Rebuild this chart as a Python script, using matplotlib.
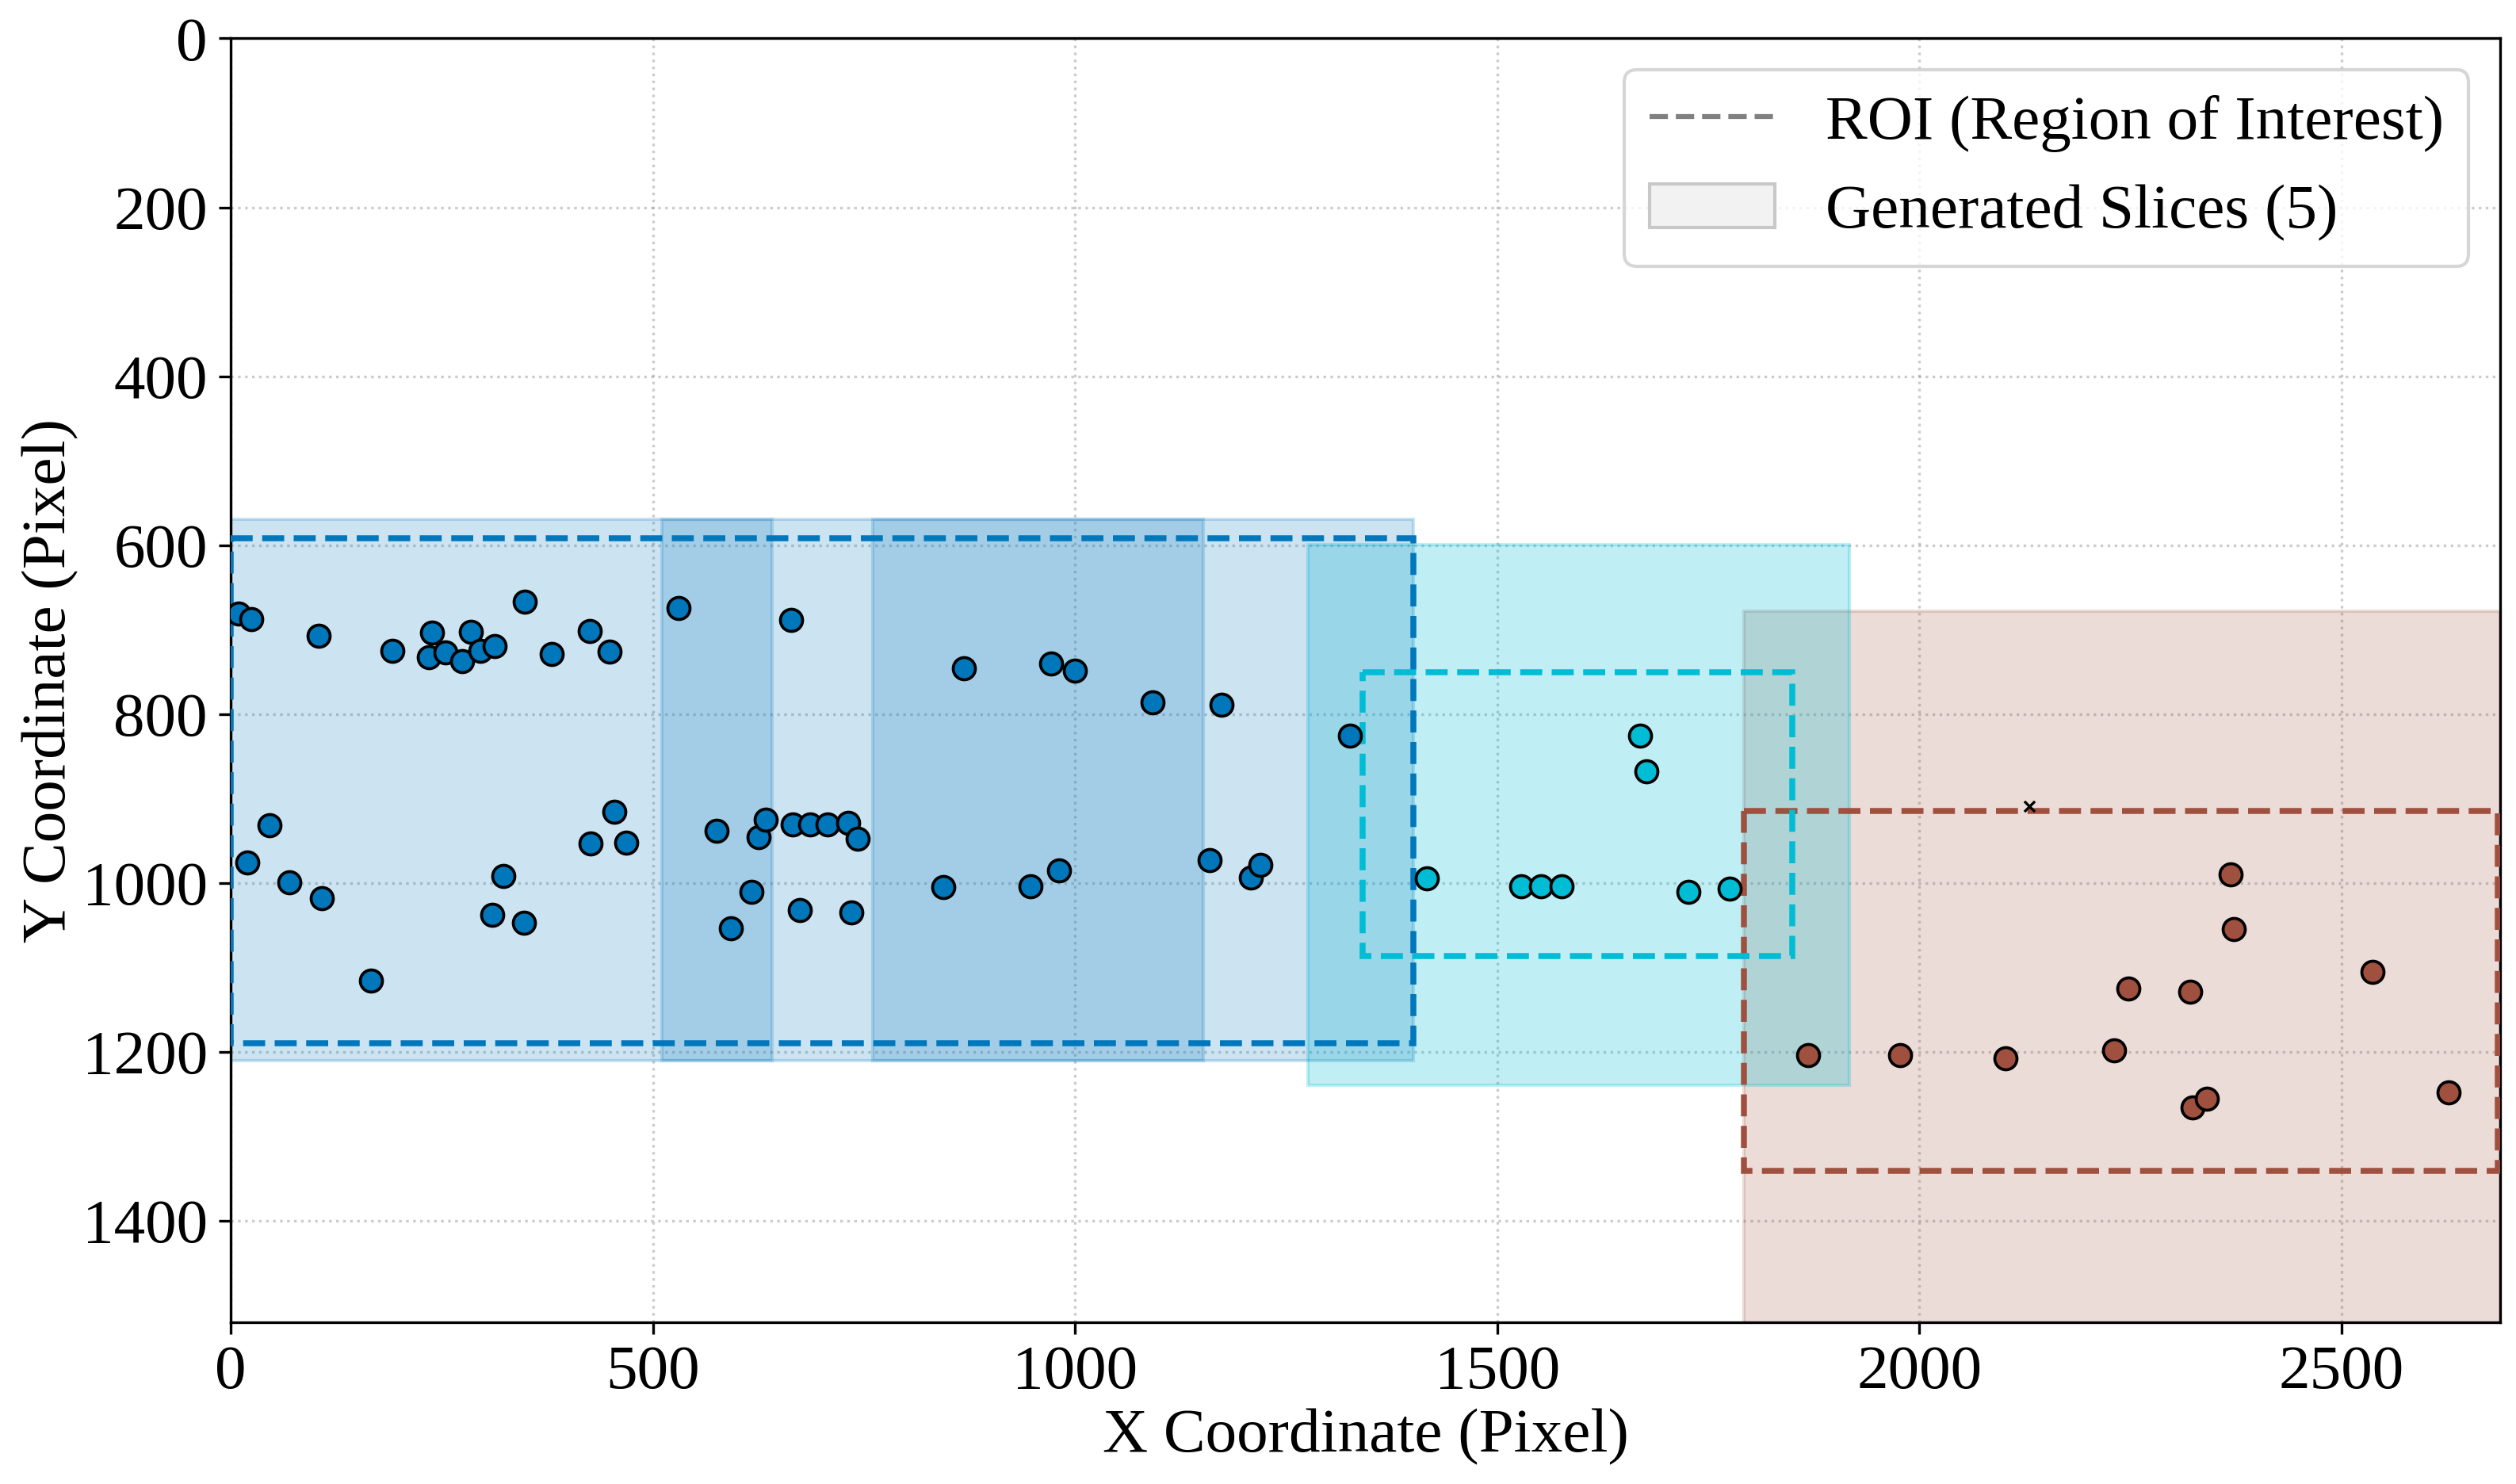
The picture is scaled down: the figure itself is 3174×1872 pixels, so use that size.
import matplotlib.pyplot as plt
from matplotlib.patches import Rectangle, Patch
from matplotlib.lines import Line2D

plt.rcParams['font.family'] = ['Liberation Serif', 'DejaVu Serif']

# image size (pixels) shown on the axes
img_w = 2688
img_h = 1520

# detected points per cluster
blue_x = [9, 24, 104, 191, 238, 235, 254, 274, 284, 296, 313, 348, 380, 425, 449, 530, 664,
          46, 20, 69, 108, 166, 310, 323, 347, 426, 454, 468, 575, 625, 634, 617, 592,
          666, 686, 707, 731, 743, 674, 735,
          868, 972, 1000, 1092, 1174, 1326,
          844, 947, 981, 1159, 1208, 1220]
blue_y = [681, 688, 707, 725, 704, 733, 727, 737, 703, 725, 720, 667, 729, 702, 726, 675, 689,
          932, 976, 999, 1018, 1116, 1038, 992, 1047, 953, 916, 952, 938, 946, 925, 1011, 1054,
          931, 931, 931, 929, 948, 1032, 1035,
          746, 740, 749, 786, 789, 826,
          1005, 1004, 985, 973, 994, 979]
cyan_x = [1417, 1528, 1552, 1576, 1669, 1677, 1727, 1775]
cyan_y = [995, 1004, 1004, 1004, 826, 868, 1011, 1007]
brown_x = [1868, 1977, 2102, 2231, 2248, 2321, 2369, 2373, 2324, 2341, 2537, 2627]
brown_y = [1204, 1204, 1208, 1198, 1125, 1129, 990, 1055, 1266, 1256, 1105, 1248]

# outlier marker
outlier_x = [2130]
outlier_y = [909]

# ROI boxes: x0, y0, x1, y1
blue_roi = [0, 592, 1401, 1190]
cyan_roi = [1341, 751, 1850, 1087]
brown_roi = [1792, 915, 2685, 1341]

# slices: x0, y0, size_w, size_h
blue_slices = [[0, 569, 641, 642], [511, 569, 641, 642], [760, 569, 641, 642]]
cyan_slices = [[1276, 599, 641, 641]]
brown_slices = [[1792, 678, 896, 896]]

c_blue = '#0077BB'
c_cyan = '#00BCD4'
c_brown = '#A0503F'

fig = plt.figure(figsize=(10.583, 6.24), dpi=300)
ax = fig.add_axes([0.0917, 0.1092, 0.9017, 0.8649])


def draw_group(slices, roi, color, alpha):
    for s in slices:
        ax.add_patch(Rectangle((s[0], s[1]), s[2], s[3], facecolor=color,
                               edgecolor=color, alpha=alpha, lw=1, zorder=2))
    ax.add_patch(Rectangle((roi[0], roi[1]), roi[2] - roi[0], roi[3] - roi[1],
                           fill=False, edgecolor=color, linestyle='--', lw=1.8, zorder=3))


draw_group(brown_slices, brown_roi, c_brown, 0.2)
draw_group(cyan_slices, cyan_roi, c_cyan, 0.25)
draw_group(blue_slices, blue_roi, c_blue, 0.2)

ax.scatter(blue_x, blue_y, s=45, c=c_blue, edgecolors='black', linewidths=0.9, zorder=5)
ax.scatter(cyan_x, cyan_y, s=45, c=c_cyan, edgecolors='black', linewidths=0.9, zorder=5)
ax.scatter(brown_x, brown_y, s=45, c=c_brown, edgecolors='black', linewidths=0.9, zorder=5)
ax.scatter(outlier_x, outlier_y, s=10, c='black', marker='x', linewidths=0.8, zorder=5)

ax.set_xlim(0, img_w)
ax.set_ylim(img_h, 0)
ax.set_xticks([0, 500, 1000, 1500, 2000, 2500])
ax.set_yticks([0, 200, 400, 600, 800, 1000, 1200, 1400])
ax.tick_params(labelsize=19)
ax.grid(True, linestyle=':', color='gray', alpha=0.4, lw=0.8)
ax.set_axisbelow(True)
ax.set_xlabel('X Coordinate (Pixel)', fontsize=19, labelpad=2)
ax.set_ylabel('Y Coordinate (Pixel)', fontsize=19, labelpad=1)

handles = [Line2D([0], [0], color='gray', linestyle='--', lw=1.5),
           Patch(facecolor='#f2f2f2', edgecolor='#c8c8c8')]
ax.legend(handles, ['ROI (Region of Interest)', 'Generated Slices (5)'],
          loc='upper right', fontsize=19)

fig.savefig('out.png', dpi=300)
